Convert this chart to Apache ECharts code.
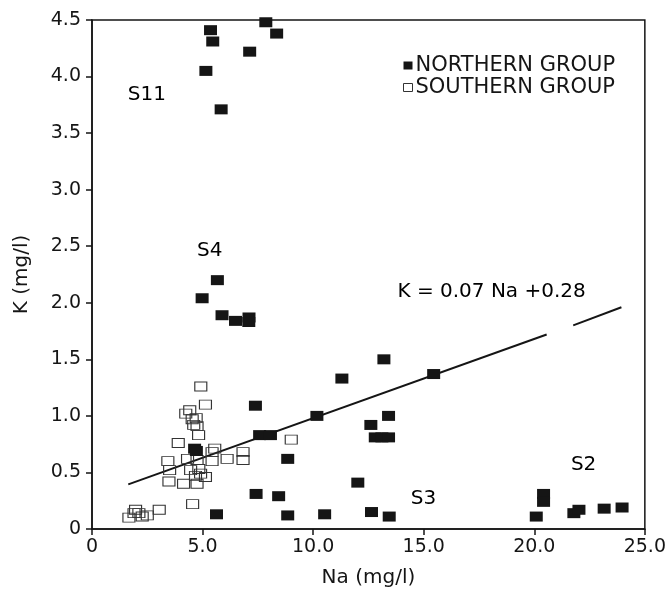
<!DOCTYPE html>
<html>
<head>
<meta charset="utf-8">
<script src="https://cdn.jsdelivr.net/npm/echarts@6/dist/echarts.min.js"></script>
<style>
  html, body { margin: 0; padding: 0; background: #fff; }
  #chart { width: 669px; height: 594px; }
</style>
</head>
<body>
<div id="chart"></div>
<script>
// Na (mg/l), K (mg/l) pairs
var northernGroup = [
  [5.36, 4.41], [5.46, 4.31], [7.86, 4.48], [8.35, 4.38], [7.13, 4.22],
  [5.15, 4.05], [5.84, 3.71],
  [5.67, 2.20], [4.98, 2.04], [5.88, 1.89], [6.49, 1.84], [7.10, 1.87], [7.09, 1.83],
  [13.20, 1.50], [11.30, 1.33], [15.45, 1.37],
  [7.39, 1.09], [10.17, 1.00], [13.41, 1.00], [12.61, 0.92],
  [12.81, 0.81], [13.11, 0.81], [13.41, 0.81],
  [7.58, 0.83], [8.07, 0.83], [4.64, 0.71], [4.72, 0.69], [8.85, 0.62],
  [12.02, 0.41], [7.42, 0.31], [8.44, 0.29],
  [5.63, 0.13], [8.85, 0.12], [10.52, 0.13], [12.64, 0.15], [13.44, 0.11],
  [20.09, 0.11], [20.42, 0.31], [20.42, 0.24], [21.79, 0.14], [22.02, 0.17],
  [23.16, 0.18], [23.97, 0.19]
];

var southernGroup = [
  [4.92, 1.26], [5.13, 1.10], [4.24, 1.02], [4.42, 1.05], [4.71, 0.98],
  [4.53, 0.97], [4.75, 0.91], [4.60, 0.92], [4.82, 0.83], [3.90, 0.76],
  [9.01, 0.79], [5.55, 0.71], [5.43, 0.68], [6.83, 0.68], [6.83, 0.61],
  [6.11, 0.62], [5.43, 0.60], [3.43, 0.60], [4.32, 0.62], [4.75, 0.61],
  [3.51, 0.52], [4.46, 0.52], [4.83, 0.53], [4.91, 0.49], [5.13, 0.46],
  [4.68, 0.47], [3.48, 0.42], [4.14, 0.40], [4.75, 0.40], [4.55, 0.22],
  [3.04, 0.17], [1.97, 0.17], [2.12, 0.14], [1.67, 0.10], [2.50, 0.12],
  [1.90, 0.14], [2.27, 0.11]
];

// regression line K = 0.07 Na + 0.28, drawn in two pieces (gap near Na 21)
var fitLineA = [[1.64, 0.395], [20.56, 1.72]];
var fitLineB = [[21.76, 1.80], [23.94, 1.96]];

var annotations = [
  { name: 'S11', value: [2.48, 3.84] },
  { name: 'S4', value: [5.32, 2.46] },
  { name: 'S3', value: [14.99, 0.27] },
  { name: 'S2', value: [22.23, 0.57] },
  { name: 'K = 0.07 Na +0.28', value: [18.07, 2.10] }
];

var FONT = 'DejaVu Sans';
var INK = '#151515';

function tickFmt(v) {
  return v === 0 ? '0' : v.toFixed(1);
}

var chart = echarts.init(document.getElementById('chart'));

var option = {
  animation: false,
  backgroundColor: '#fff',
  textStyle: { fontFamily: FONT, color: INK },
  grid: {
    left: 92, right: 22, top: 20, bottom: 65,
    show: true, borderColor: INK, borderWidth: 1.5, backgroundColor: 'transparent'
  },
  legend: {
    orient: 'vertical',
    left: 403,
    top: 55,
    padding: 0,
    itemWidth: 9,
    itemHeight: 8,
    itemGap: 1,
    textStyle: { fontFamily: FONT, fontSize: 21, color: INK, padding: [0, 0, 0, -2] },
    data: [
      { name: 'NORTHERN GROUP', icon: 'rect', itemStyle: { color: INK, borderWidth: 0 } },
      { name: 'SOUTHERN GROUP', icon: 'rect', itemStyle: { color: '#fff', borderColor: '#333', borderWidth: 1 } }
    ]
  },
  xAxis: {
    type: 'value',
    min: 0, max: 25, interval: 5,
    name: 'Na (mg/l)',
    nameLocation: 'middle',
    nameGap: 39,
    nameTextStyle: { fontFamily: FONT, fontSize: 20, color: INK },
    axisLine: { show: true, lineStyle: { color: INK, width: 1.5 } },
    axisTick: { show: true, inside: false, length: 6, lineStyle: { color: INK, width: 1.5 } },
    axisLabel: { margin: 9, fontFamily: FONT, fontSize: 19, color: INK, formatter: tickFmt },
    splitLine: { show: false }
  },
  yAxis: {
    type: 'value',
    min: 0, max: 4.5, interval: 0.5,
    name: 'K (mg/l)',
    nameLocation: 'middle',
    nameGap: 60,
    nameTextStyle: { fontFamily: FONT, fontSize: 20, color: INK },
    axisLine: { show: true, lineStyle: { color: INK, width: 1.5 } },
    axisTick: { show: true, inside: false, length: 6, lineStyle: { color: INK, width: 1.5 } },
    axisLabel: { margin: 11, fontFamily: FONT, fontSize: 19, color: INK, formatter: tickFmt },
    splitLine: { show: false }
  },
  series: [
    {
      name: 'fitA',
      type: 'line',
      data: fitLineA,
      showSymbol: false,
      silent: true,
      lineStyle: { color: INK, width: 2 },
      z: 1
    },
    {
      name: 'fitB',
      type: 'line',
      data: fitLineB,
      showSymbol: false,
      silent: true,
      lineStyle: { color: INK, width: 2 },
      z: 1
    },
    {
      name: 'SOUTHERN GROUP',
      type: 'scatter',
      symbol: 'rect',
      symbolSize: [12, 9],
      data: southernGroup,
      itemStyle: { color: 'rgba(0,0,0,0)', borderColor: '#333', borderWidth: 1, opacity: 1 },
      z: 2
    },
    {
      name: 'NORTHERN GROUP',
      type: 'scatter',
      symbol: 'rect',
      symbolSize: [13, 10],
      data: northernGroup,
      itemStyle: { color: INK, opacity: 1 },
      z: 3
    },
    {
      name: 'labels',
      type: 'scatter',
      symbolSize: 0,
      silent: true,
      data: annotations,
      itemStyle: { color: INK, opacity: 1 },
      label: {
        show: true,
        position: 'inside',
        formatter: '{b}',
        fontFamily: FONT,
        fontSize: 20,
        color: '#000',
        opacity: 1,
        textBorderWidth: 0
      },
      z: 4
    }
  ]
};

chart.setOption(option);
</script>
</body>
</html>
